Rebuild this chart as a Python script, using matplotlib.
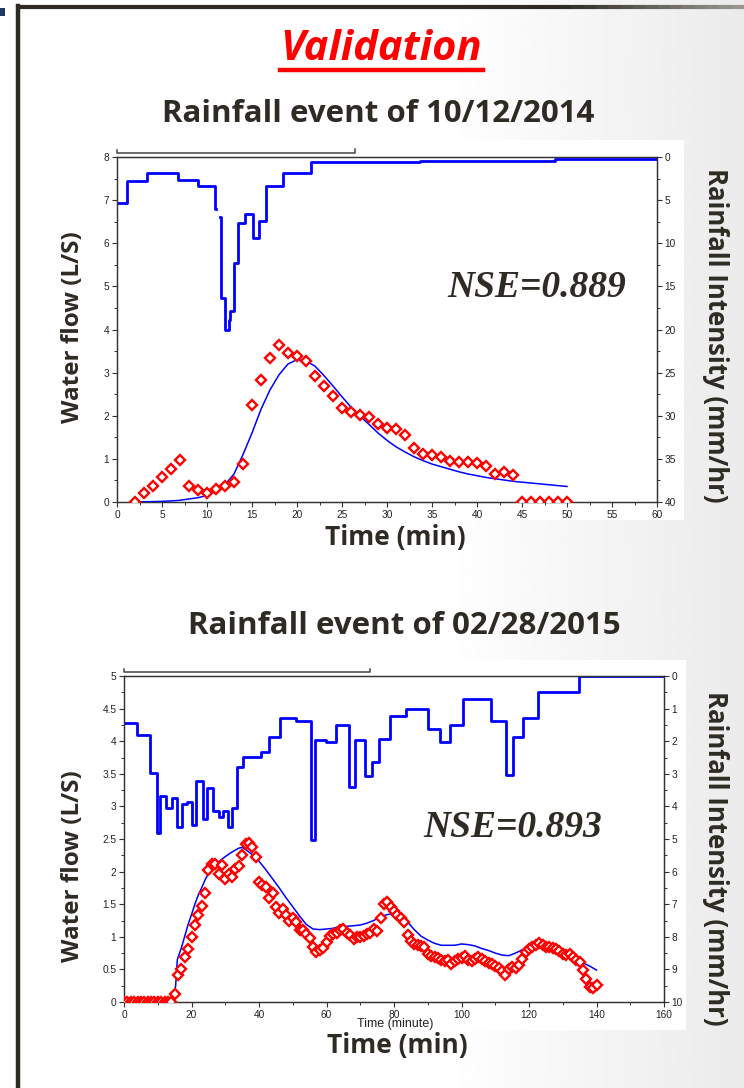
import numpy as np
import matplotlib
matplotlib.use('Agg')
import matplotlib.pyplot as plt
from matplotlib.lines import Line2D
from matplotlib.patches import Rectangle
from matplotlib.collections import LineCollection
from matplotlib.ticker import MultipleLocator, FuncFormatter
import matplotlib.transforms as mtransforms

W, H = 744, 1088

# ---- event 1: 10/12/2014 ----
obs1_t = list(range(2, 51))
obs1_q = [0.0, 0.20, 0.38, 0.59, 0.77, 0.97, 0.36, 0.27, 0.22, 0.30,
          0.36, 0.46, 0.89, 2.26, 2.82, 3.34, 3.65, 3.46, 3.39, 3.26,
          2.93, 2.70, 2.46, 2.18, 2.08, 2.02, 1.97, 1.82, 1.72, 1.70,
          1.56, 1.25, 1.12, 1.10, 1.04, 0.95, 0.93, 0.93, 0.91, 0.83,
          0.64, 0.70, 0.62, 0.0, 0.0, 0.0, 0.0, 0.0, 0.0]
sim1_t = list(range(2, 51))
sim1_q = [0.0, 0.005, 0.01, 0.015, 0.025, 0.04, 0.07, 0.10, 0.15, 0.25,
          0.40, 0.65, 1.10, 1.60, 2.15, 2.60, 2.95, 3.20, 3.30, 3.27,
          3.15, 2.93, 2.69, 2.44, 2.20, 1.99, 1.80, 1.60, 1.43, 1.28,
          1.16, 1.05, 0.96, 0.88, 0.82, 0.76, 0.70, 0.65, 0.61, 0.57,
          0.54, 0.51, 0.48, 0.46, 0.44, 0.42, 0.40, 0.38, 0.36]
rain1_t = [0, 1.1, 3.3, 6.8, 9.0, 10.9, 11.0, 11.4, 11.6, 12.0, 12.4, 12.6,
           13.0, 13.4, 14.2, 15.1, 15.8, 16.6, 18.4, 21.6, 33.7, 48.7, 60]
rain1_i = [5.3, 2.75, 1.8, 2.7, 3.35, 6.05, np.nan, 6.9, 16.3, 20.0, 18.9, 17.9,
           12.3, 7.7, 6.6, 9.4, 7.4, 3.35, 1.8, 0.58, 0.43, 0.27, 0.27]

# ---- event 2: 02/28/2015 ----
obs2_t = list(range(0, 141))
obs2_q = [0, 0, 0, 0, 0, 0, 0, 0, 0, 0,
          0, 0, 0, 0, 0, 0.13, 0.41, 0.51, 0.69, 0.82,
          1.00, 1.18, 1.34, 1.48, 1.67, 2.02, 2.12, 2.12, 1.96, 2.10,
          1.88, 1.96, 1.91, 2.04, 2.09, 2.26, 2.43, 2.44, 2.38, 2.23,
          1.84, 1.80, 1.76, 1.59, 1.67, 1.46, 1.37, 1.42, 1.33, 1.25,
          1.29, 1.22, 1.10, 1.11, 1.04, 0.98, 0.85, 0.77, 0.79, 0.83,
          0.92, 1.01, 1.04, 1.06, 1.11, 1.12, 1.06, 1.03, 0.97, 1.00,
          0.99, 1.01, 1.04, 1.06, 1.12, 1.09, 1.29, 1.51, 1.53, 1.46,
          1.39, 1.33, 1.29, 1.23, 1.03, 0.94, 0.89, 0.87, 0.86, 0.85,
          0.74, 0.71, 0.69, 0.67, 0.64, 0.63, 0.64, 0.59, 0.63, 0.66,
          0.68, 0.71, 0.64, 0.63, 0.66, 0.69, 0.66, 0.63, 0.60, 0.59,
          0.55, 0.52, 0.47, 0.42, 0.50, 0.54, 0.52, 0.57, 0.66, 0.77,
          0.82, 0.84, 0.87, 0.90, 0.87, 0.85, 0.84, 0.83, 0.81, 0.78,
          0.74, 0.72, 0.73, 0.69, 0.65, 0.61, 0.49, 0.35, 0.23, 0.21,
          0.26]
sim2_t = [0, 10, 14.6, 15.3, 15.8, 17, 18, 19, 20, 21, 22, 23, 24, 25, 26, 27, 28,
          30, 32, 34, 35, 36, 38] + list(range(40, 141, 2))
sim2_q = [0, 0, 0, 0.25, 0.65, 0.83, 1.01, 1.19, 1.34, 1.50, 1.64, 1.75, 1.87,
          1.97, 2.04, 2.10, 2.15, 2.23, 2.30, 2.36, 2.37, 2.34, 2.26,
          2.16, 2.03, 1.89, 1.75, 1.60, 1.46, 1.32, 1.19, 1.12, 1.11,
          1.12, 1.13, 1.16, 1.16, 1.17, 1.18, 1.21, 1.25, 1.31, 1.34,
          1.36, 1.33, 1.23, 1.11, 1.01, 0.95, 0.90, 0.87, 0.87, 0.87,
          0.89, 0.88, 0.86, 0.82, 0.79, 0.75, 0.72, 0.71, 0.75, 0.80,
          0.84, 0.86, 0.89, 0.87, 0.83, 0.78, 0.72, 0.66, 0.60, 0.55, 0.49]
rain2_t = [0, 3.9, 7.7, 9.7, 10.7, 12.4, 14.1, 15.8, 17.1, 18.6, 20.2, 21.3,
           23.3, 24.7, 26.5, 28.0, 29.4, 30.7, 32.1, 33.4, 35.4, 40.5, 43.1,
           46.2, 51.0, 55.5, 56.6, 59.9, 62.8, 66.8, 68.4, 71.5, 73.6, 75.7,
           78.9, 83.5, 90.0, 93.5, 96.6, 100.5, 108.8, 113.1, 115.3, 118.2,
           122.8, 134.8, 160]
rain2_i = [1.43, 1.81, 2.97, 4.83, 3.67, 4.06, 3.73, 4.62, 3.93, 3.86, 4.57, 3.22,
           4.40, 3.44, 4.13, 4.31, 4.13, 4.62, 4.04, 2.80, 2.49, 2.32, 1.88,
           1.28, 1.37, 5.03, 1.96, 2.01, 1.51, 3.40, 1.96, 3.06, 2.63, 1.93,
           1.23, 1.02, 1.62, 2.03, 1.51, 0.72, 1.38, 3.04, 1.87, 1.30,
           0.49, 0.0, 0.0]

titles = ['Rainfall event of 10/12/2014', 'Rainfall event of 02/28/2015']
nse_labels = ['NSE=0.889', 'NSE=0.893']

txt_col = '#2e2a24'
spine_col = '#333333'


def fx(px):
    return px / W


def fy(py):
    return 1 - py / H


fig = plt.figure(figsize=(W / 100, H / 100), dpi=100)

# slide background with a light grey fade on the right
bg = fig.add_axes([0, 0, 1, 1], zorder=-10)
xx = np.linspace(0, 1, 300)
shade = 1 - 0.08 * np.clip((xx - 0.6) / 0.4, 0, 1)
bg.imshow(np.tile(shade, (10, 1)), cmap='gray', vmin=0, vmax=1,
          aspect='auto', extent=(0, 1, 0, 1))
bg.axis('off')

# white picture boxes behind the charts
for (x0, y0, x1, y1) in [(100, 140, 684, 520), (105, 660, 686, 1030)]:
    fig.add_artist(Rectangle((fx(x0), fy(y1)), fx(x1) - fx(x0), fy(y0) - fy(y1),
                             transform=fig.transFigure, color='white', zorder=-5, lw=0))

# slide frame
fig.add_artist(Line2D([fx(18), fx(18)], [fy(6), 0], color='#2d2a26', lw=3.2))
xs = np.linspace(fx(16), 1, 60)
segs = [[(xs[i], fy(7)), (xs[i + 1], fy(7))] for i in range(len(xs) - 1)]
fade = np.clip((xs[:-1] - 0.75) / 0.25, 0, 1)
cols = [(0.18 + 0.45 * f, 0.17 + 0.45 * f, 0.15 + 0.45 * f) for f in fade]
fig.add_artist(LineCollection(segs, colors=cols, lw=3, transform=fig.transFigure))
fig.add_artist(Rectangle((0, fy(16)), fx(5), fy(8) - fy(16), transform=fig.transFigure,
                         color='#1f3864', lw=0))

# heading
fig.text(fx(381), fy(49), 'Validation', ha='center', va='center', color='red',
         fontsize=30, fontweight='bold', style='italic', family='Open Sans')
fig.add_artist(Line2D([fx(280), fx(483)], [fy(70), fy(70)], color='red', lw=3.2))

fmt = FuncFormatter(lambda v, p: f'{v:g}')


def draw_panel(rect, obs_t, obs_q, sim_t, sim_q, rain_t, rain_i,
               xmax, xmaj, qmax, qmaj, rmax, rmaj, nse, nse_pos, bracket_end):
    ax = fig.add_axes(rect)
    ax2 = ax.twinx()
    ax.set_zorder(2)
    ax.patch.set_visible(False)

    ax2.step(rain_t, rain_i, where='post', color='#0000ff', lw=2.0, zorder=3)
    ax.plot(sim_t, sim_q, color='#0000ff', lw=1.1, zorder=3)
    ax.plot(obs_t, obs_q, ls='none', marker='D', ms=4.6, mfc='white',
            mec='#ff0000', mew=1.7, zorder=4)

    ax.set_xlim(0, xmax)
    ax.set_ylim(0, qmax)
    ax2.set_ylim(rmax, 0)

    ax.xaxis.set_major_locator(MultipleLocator(xmaj))
    ax.xaxis.set_minor_locator(MultipleLocator(xmaj / 2))
    ax.yaxis.set_major_locator(MultipleLocator(qmaj))
    ax.yaxis.set_minor_locator(MultipleLocator(qmaj / 2))
    ax2.yaxis.set_major_locator(MultipleLocator(rmaj))
    ax2.yaxis.set_minor_locator(MultipleLocator(rmaj / 2))
    for a in (ax, ax2):
        a.xaxis.set_major_formatter(fmt)
        a.yaxis.set_major_formatter(fmt)
        a.tick_params(which='major', length=3.5, width=0.8, color=spine_col,
                      labelsize=7.3, labelcolor='#222222', pad=2)
        a.tick_params(which='minor', length=2, width=0.7, color=spine_col)
        for s in a.spines.values():
            s.set_color(spine_col)
            s.set_linewidth(0.9)
        for lab in a.get_xticklabels() + a.get_yticklabels():
            lab.set_family('Liberation Sans')

    ax.text(nse_pos[0], nse_pos[1], nse, transform=ax.transAxes, ha='center',
            va='center', fontsize=27, fontweight='bold', style='italic',
            family='Liberation Serif', color=txt_col)

    # leftover bracket above the plot frame
    tr = mtransforms.blended_transform_factory(ax.transData, ax.transAxes)
    ax.plot([0, 0, bracket_end, bracket_end], [1.02, 1.012, 1.012, 1.022],
            transform=tr, color='#444444', lw=1.1, clip_on=False)
    return ax


draw_panel([fx(117), fy(502), fx(657) - fx(117), fy(157) - fy(502)],
           obs1_t, obs1_q, sim1_t, sim1_q, rain1_t, rain1_i,
           60, 5, 8, 1, 40, 5, nse_labels[0], (0.778, 0.623), 26.4)
draw_panel([fx(124), fy(1002), fx(664) - fx(124), fy(676) - fy(1002)],
           obs2_t, obs2_q, sim2_t, sim2_q, rain2_t, rain2_i,
           160, 20, 5, 0.5, 10, 1, nse_labels[1], (0.72, 0.534), 72.8)

# text on the slide
lab_kw = dict(ha='center', va='center', color=txt_col, fontweight='bold', family='Open Sans')
fig.text(fx(378), fy(114), titles[0], fontsize=22.5, **lab_kw)
fig.text(fx(404), fy(626), titles[1], fontsize=22.5, **lab_kw)
fig.text(fx(395), fy(1024), 'Time (minute)', ha='center', va='center', fontsize=9,
         color='#222222', family='Liberation Sans')
fig.text(fx(395), fy(537), 'Time (min)', fontsize=19, **lab_kw)
fig.text(fx(397), fy(1046), 'Time (min)', fontsize=19, **lab_kw)
fig.text(fx(73), fy(327), 'Water flow (L/S)', rotation=90, fontsize=17.5, **lab_kw)
fig.text(fx(73), fy(866), 'Water flow (L/S)', rotation=90, fontsize=17.5, **lab_kw)
fig.text(fx(716), fy(335), 'Rainfall Intensity (mm/hr)', rotation=-90, fontsize=18.5, **lab_kw)
fig.text(fx(716), fy(858), 'Rainfall Intensity (mm/hr)', rotation=-90, fontsize=18.5, **lab_kw)

fig.savefig('out.png', dpi=100)
